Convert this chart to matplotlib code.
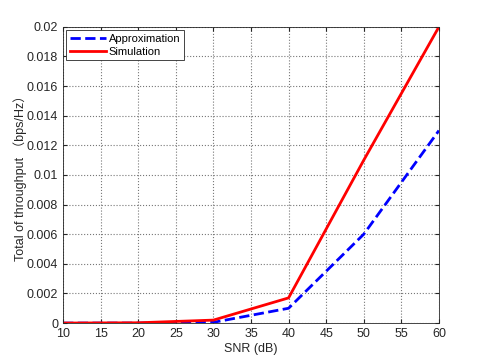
import matplotlib.pyplot as plt

snr = [10, 20, 30, 40, 50, 60]
approximation = [0.0, 0.0, 0.00005, 0.001, 0.006, 0.013]
simulation = [0.0, 0.00002, 0.0002, 0.0017, 0.011, 0.02]

plt.rcParams['font.family'] = ['Liberation Sans', 'Noto Sans CJK SC']

fig = plt.figure(figsize=(4.85, 3.63), dpi=100)
ax = fig.add_axes([0.130, 0.110, 0.775, 0.816])
ax.plot(snr, approximation, color='blue', linestyle='--', linewidth=2, label='Approximation')
ax.plot(snr, simulation, color='red', linestyle='-', linewidth=2, label='Simulation')
ax.set_xlim(10, 60)
ax.set_ylim(0, 0.02)
ax.set_xticks(range(10, 61, 5))
ax.set_yticks([i * 0.002 for i in range(11)])
ax.set_yticklabels(['0', '0.002', '0.004', '0.006', '0.008', '0.01', '0.012',
                    '0.014', '0.016', '0.018', '0.02'])
ax.set_xlabel("SNR (dB)", fontsize=9, color='#262626', labelpad=2)
ax.set_ylabel("Total of throughput （bps/Hz）", fontsize=9, color='#262626', labelpad=0)
ax.tick_params(direction='in', labelsize=9, colors='#262626', length=3, top=True, right=True)
ax.grid(True, linestyle=':', color='#777777', linewidth=0.8)
for s in ax.spines.values():
    s.set_color('#262626')
    s.set_linewidth(0.6)
leg = ax.legend(loc='upper left', fontsize=8, fancybox=False, framealpha=1,
                edgecolor='#262626', borderaxespad=0.3, handlelength=3.3,
                handletextpad=0.2, borderpad=0.3, labelspacing=0.3)
leg.get_frame().set_linewidth(0.6)

fig.savefig('out.png')
